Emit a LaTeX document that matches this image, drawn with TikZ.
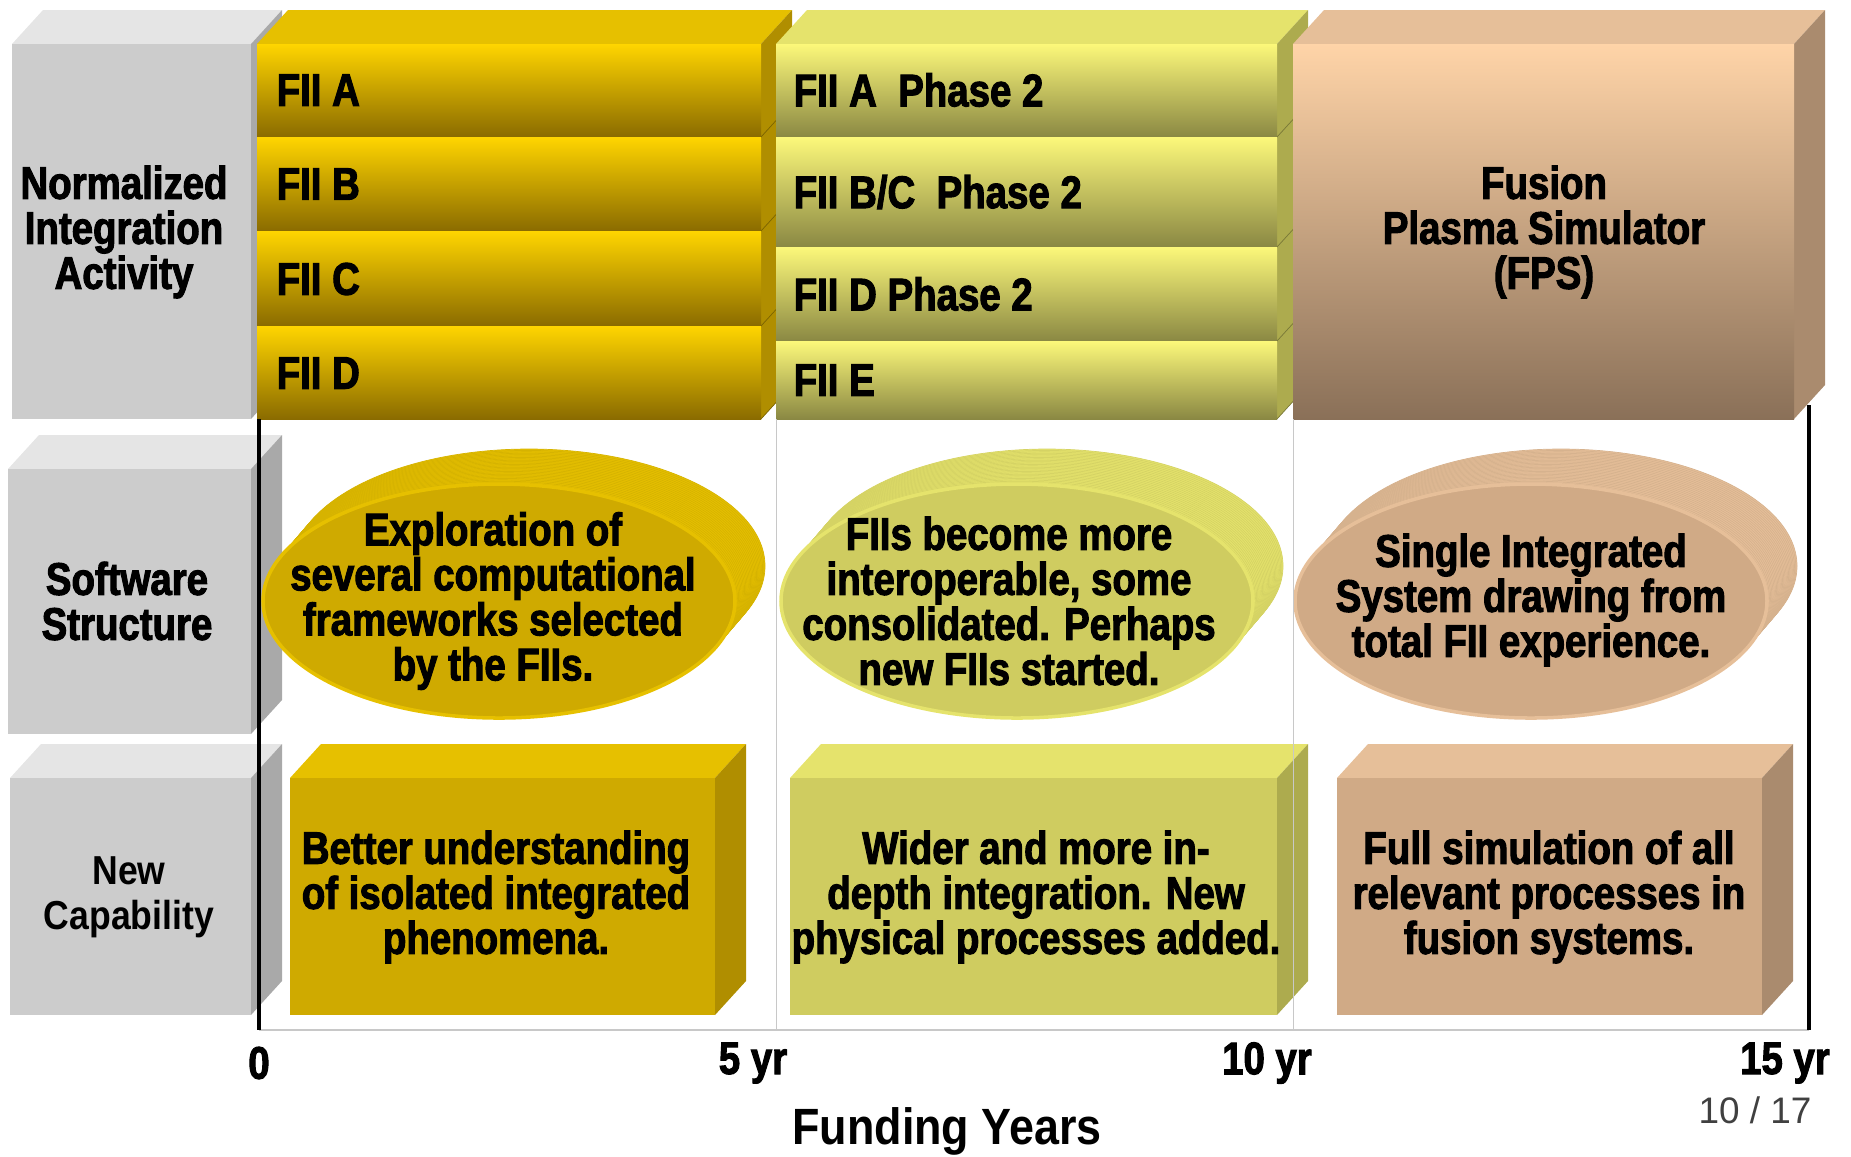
\documentclass[tikz,border=0pt]{standalone}
\usepackage{fontspec}
\setmainfont{Liberation Sans}
\newfontfamily\heavyfont[FakeStretch=0.84,FakeBold=2.2]{Liberation Sans}
\newfontfamily\midfont[FakeStretch=0.88]{Liberation Sans}
\definecolor{grayfront}{HTML}{CCCCCC}
\definecolor{graytop}{HTML}{E5E5E5}
\definecolor{grayside}{HTML}{A9A9A9}
\definecolor{goldhi}{HTML}{FFD500}
\definecolor{goldlo}{HTML}{8A6B00}
\definecolor{goldtop}{HTML}{E6C000}
\definecolor{goldside}{HTML}{B08E00}
\definecolor{goldface}{HTML}{CFAA00}
\definecolor{limehi}{HTML}{FCF87A}
\definecolor{limelo}{HTML}{8A8843}
\definecolor{limetop}{HTML}{E5E36C}
\definecolor{limeside}{HTML}{ADAB4E}
\definecolor{limeface}{HTML}{CFCC60}
\definecolor{tanhi}{HTML}{FFD4A8}
\definecolor{tanlo}{HTML}{8A7058}
\definecolor{tantop}{HTML}{E6BF99}
\definecolor{tanside}{HTML}{AA8B6E}
\definecolor{tanface}{HTML}{D0AA86}
\definecolor{gridgray}{HTML}{C8C8C8}
% a box with its top and right faces
\newcommand{\boxthree}[7]{%
  \fill[#6] (#1,#2) -- (#1+31,#2-34) -- (#3+31,#2-34) -- (#3,#2) -- cycle;
  \fill[#7] (#3,#2) -- (#3+31,#2-34) -- (#3+31,#4-34) -- (#3,#4) -- cycle;
  \fill[#5] (#1,#2) rectangle (#3,#4);}
\tikzset{
  heavy/.style={font=\heavyfont\bfseries\fontsize{13}{12.8}\selectfont, align=center, inner sep=0pt},
  plain/.style={font=\midfont\bfseries\fontsize{11.5}{12.8}\selectfont, align=center, inner sep=0pt},
}
\begin{document}
\begin{tikzpicture}[x=0.01cm, y=-0.01cm]
	\useasboundingbox (0,0) rectangle (1851,1156);
	% row 1
	\boxthree{12}{44}{251}{419}{grayfront}{graytop}{grayside}
	\boxthree{257}{44}{761}{419}{goldface}{goldtop}{goldside}
	\foreach \ya/\yb in {44/137,137/231,231/326,326/419} {
		\shade[top color=goldhi, bottom color=goldlo] (257,\ya) rectangle (761,\yb);
		\draw[goldside!70!black, very thin] (761,\yb) -- (792,\yb-34);
	}
	\boxthree{776}{44}{1277}{419}{limeface}{limetop}{limeside}
	\foreach \ya/\yb in {44/137,137/247,247/341,341/419} {
		\shade[top color=limehi, bottom color=limelo] (776,\ya) rectangle (1277,\yb);
		\draw[limeside!70!black, very thin] (1277,\yb) -- (1308,\yb-34);
	}
	\boxthree{1293}{44}{1794}{419}{tanface}{tantop}{tanside}
	\shade[top color=tanhi, bottom color=tanlo] (1293,44) rectangle (1794,419);
	% row 2
	\boxthree{8}{469}{251}{734}{grayfront}{graytop}{grayside}
	\foreach \cx/\rim/\face in {499/goldtop/goldface, 1017/limetop/limeface, 1531/tantop/tanface} {
		\foreach \k in {0,...,25}
			\fill[\rim, draw=\rim!93!black, very thin] (\cx+30-1.2*\k,566+1.4*\k) ellipse[x radius=236, y radius=117];
		\fill[\face, draw=\rim, line width=1pt] (\cx,601) ellipse[x radius=236, y radius=117];
	}
	% row 3
	\boxthree{10}{778}{251}{1015}{grayfront}{graytop}{grayside}
	\boxthree{290}{778}{715}{1015}{goldface}{goldtop}{goldside}
	\boxthree{790}{778}{1277}{1015}{limeface}{limetop}{limeside}
	\boxthree{1337}{778}{1762}{1015}{tanface}{tantop}{tanside}
	% axis
	\coordinate (o) at (259,1030);
	\coordinate (otop) at (259,419);
	\coordinate (e) at (1809,1030);
	\coordinate (etop) at (1809,405);
	\foreach \x in {776,1293} \draw[gridgray, very thin] (\x,419) -- (\x,1030);
	\draw[gridgray, thin] (o) -- (e);
	\draw[line width=0.9pt] (otop) -- (o);
	\draw[line width=0.9pt] (etop) -- (e);
	% labels
	\node[heavy] (lblNIA) at (124,232) {Normalized\\Integration\\Activity};
	\node[heavy] (lblSS) at (127,601) {Software\\Structure};
	\node[plain] (lblNC) at (129,897) {New\\Capability};
	\foreach \n/\y/\l in {fiiA/90/FII A, fiiB/184/FII B, fiiC/279/FII C, fiiD/373/FII D}
		\node[heavy, anchor=west] (\n) at (276,\y) {\l};
	\foreach \n/\y/\l in {fiiAtwo/90/{FII A~~Phase 2}, fiiBCtwo/192/{FII B/C~~Phase 2}, fiiDtwo/294/{FII D Phase 2}, fiiE/380/{FII E}}
		\node[heavy, anchor=west] (\n) at (793,\y) {\l};
	\node[heavy] (fps) at (1544,232) {Fusion\\Plasma Simulator\\(FPS)};
	\node[heavy] (ssA) at (493,601) {Exploration of\\several computational\\frameworks selected\\by the FIIs.};
	\node[heavy] (ssB) at (1009,601) {FIIs become more\\interoperable, some\\consolidated. Perhaps\\new FIIs started.};
	\node[heavy] (ssC) at (1531,600) {Single Integrated\\System drawing from\\total FII experience.};
	\node[heavy] (ncA) at (496,897) {Better understanding\\of isolated integrated\\phenomena.};
	\node[heavy] (ncB) at (1036,897) {Wider and more in-\\depth integration. New\\physical processes added.};
	\node[heavy] (ncC) at (1549,897) {Full simulation of all\\relevant processes in\\fusion systems.};
	\foreach \n/\x/\l in {tick0/259/0, tick5/753/5 yr, tick10/1267/10 yr, tick15/1785/15 yr}
		\node[heavy] (\n) at (\x,1063) {\l};
	\node[plain, font=\midfont\bfseries\fontsize{14.5}{16}\selectfont] (xlabel) at (947,1131) {Funding Years};
	\node[plain, font=\fontsize{10.5}{12}\selectfont, text=black!75] (pagenum) at (1755,1110) {10 / 17};
\end{tikzpicture}
\end{document}
